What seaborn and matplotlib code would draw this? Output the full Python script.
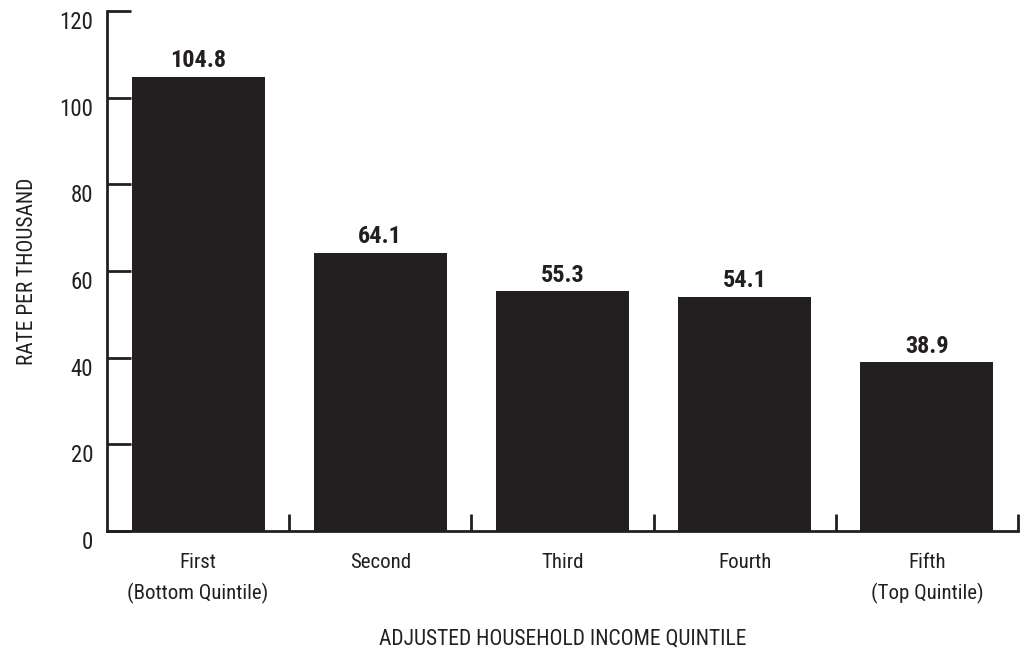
import matplotlib
matplotlib.use("Agg")
import matplotlib.pyplot as plt
import seaborn as sns
import pandas as pd
from matplotlib.ticker import FixedLocator

categories = ["First\n(Bottom Quintile)", "Second", "Third", "Fourth", "Fifth\n(Top Quintile)"]
values = [104.8, 64.1, 55.3, 54.1, 38.9]
value_labels = ["104.8", "64.1", "55.3", "54.1", "38.9"]
y_ticks = [0, 20, 40, 60, 80, 100, 120]

sns.set_style("white")
FONT = ["Liberation Sans Narrow", "Roboto Condensed", "DejaVu Sans"]
plt.rcParams["font.family"] = FONT

INK = "#231f20"
df = pd.DataFrame({"cat": categories, "val": values})

fig = plt.figure(figsize=(10.27, 6.62), dpi=100)
ax = fig.add_axes([107/1027, (662-531)/662, (1018-107)/1027, (531-11)/662])
sns.barplot(data=df, x="cat", y="val", color=INK, saturation=1, width=0.73, ax=ax)
for p in ax.patches:
    p.set_edgecolor("none")

ax.set_xlim(-0.5, 4.5)
ax.set_ylim(0, 120)
ax.set_yticks(y_ticks)
ax.set_yticklabels([str(t) for t in y_ticks], fontsize=16.5, color=INK, va="top")

ax.set_xticks(range(len(categories)))
ax.set_xticklabels(categories, fontsize=15, color=INK, linespacing=1.65)
ax.tick_params(axis="x", which="major", length=0, pad=16)
ax.xaxis.set_minor_locator(FixedLocator([0.5, 1.5, 2.5, 3.5, 4.5]))
ax.tick_params(axis="x", which="minor", direction="in", length=12, width=2, color=INK, bottom=True)
ax.tick_params(axis="y", direction="in", length=17, width=2, color=INK, pad=10, left=True)

for s in ["top", "right"]:
    ax.spines[s].set_visible(False)
for s in ["left", "bottom"]:
    ax.spines[s].set_color(INK)
    ax.spines[s].set_linewidth(2)

for i, (v, lab) in enumerate(zip(values, value_labels)):
    ax.annotate(lab, (i, v), xytext=(0, 3.5), textcoords="offset points",
                ha="center", va="bottom", fontsize=17.5, fontweight="bold", color=INK)

ax.set_xlabel("ADJUSTED HOUSEHOLD INCOME QUINTILE", fontsize=15.5, color=INK, labelpad=18)
ax.set_ylabel("RATE PER THOUSAND", fontsize=15.5, color=INK, labelpad=15)

fig.savefig("out.png", dpi=100)
